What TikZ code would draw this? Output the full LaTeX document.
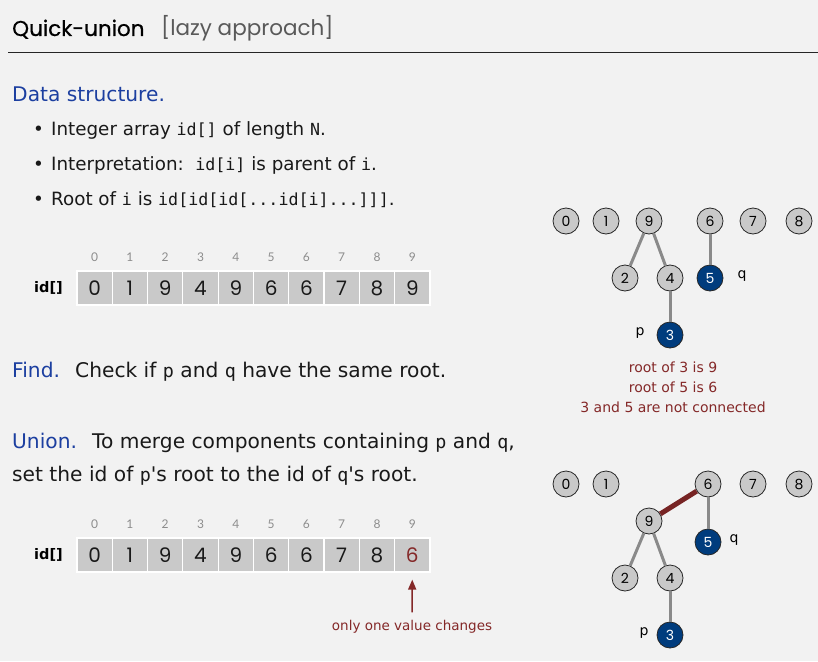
\documentclass[tikz,border=0pt]{standalone}
\usepackage{fontspec}
\setmainfont{DejaVu Sans}
\newfontfamily\titlefont[FakeBold=0.6]{Poppins}
\newfontfamily\subfont{Poppins}
\newfontfamily\digitfont{Poppins}
\newfontfamily\latofont{Lato}
\setmonofont[Scale=0.91]{DejaVu Sans Mono}
\usetikzlibrary{arrows.meta}
\definecolor{bgcol}{HTML}{F2F2F2}
\definecolor{headblue}{HTML}{1C3FA0}
\definecolor{darkred}{HTML}{842828}
\definecolor{nodeblue}{HTML}{003C7D}
\definecolor{cellgray}{HTML}{C9C9C9}
\definecolor{edgegray}{HTML}{8A8A8A}
\newcommand{\cd}[1]{{\ttfamily #1}}
\newcommand{\bulletsize}{\fontsize{18.3}{22}\selectfont}
\newcommand{\mainsize}{\fontsize{20.2}{24}\selectfont}
\begin{document}
\begin{tikzpicture}[x=1pt,y=-1pt,
  body/.style={anchor=base west,inner sep=0pt,font=\mainsize,text=black!90},
  bbody/.style={anchor=base west,inner sep=0pt,font=\bulletsize,text=black!90},
  head/.style={body,text=headblue},
  cell/.style={draw=white,line width=1.2pt,fill=cellgray,minimum width=35.3pt,minimum height=34pt,inner sep=0pt,font=\digitfont\fontsize{20}{24}\selectfont,text=black!90},
  idx/.style={inner sep=0pt,font=\latofont\fontsize{12}{14}\selectfont,text=black!45},
  lbl/.style={inner sep=0pt,font=\bfseries\fontsize{14.5}{18}\selectfont},
  tnode/.style={circle,draw=black!85,line width=0.8pt,fill=cellgray,minimum size=26pt,inner sep=0pt,font=\digitfont\fontsize{14}{16}\selectfont},
  bnode/.style={tnode,fill=nodeblue,text=white},
  tedge/.style={draw=edgegray,line width=3pt},
  redge/.style={draw=darkred!90!black,line width=5pt},
  note/.style={inner sep=0pt,font=\fontsize{14}{16}\selectfont,text=darkred},
  pq/.style={inner sep=0pt,font=\fontsize{14}{18}\selectfont}
]
\useasboundingbox[fill=bgcol] (0,0) rectangle (818,661);

% title
\node[anchor=base west,inner sep=0pt,font=\titlefont\fontsize{21.5}{28}\selectfont] (title) at (12,36) {Quick-union};
\node[anchor=base west,inner sep=0pt,font=\subfont\fontsize{21.5}{28}\selectfont,text=black!65] (sub) at (161,36) {[lazy approach]};
\coordinate (rulel) at (8,53);
\coordinate (ruler) at (826,53);
\draw[line width=1pt,black!85] (rulel) -- (ruler);

% data structure
\node[head] (ds) at (12,101) {Data structure.};
\node[bbody] (bu1) at (33,135) {\textbullet};
\node[bbody] (l1) at (51,135) {Integer array \cd{id[]} of length \cd{N}.};
\node[bbody] (bu2) at (33,170) {\textbullet};
\node[bbody] (l2) at (51,170) {Interpretation:\ \ \cd{id[i]} is parent of \cd{i}.};
\node[bbody] (bu3) at (33,205) {\textbullet};
\node[bbody] (l3) at (51,205) {Root of \cd{i} is \cd{id[id[id[...id[i]...]]]}.};

% first array
\node[lbl,anchor=east] (lab1) at (63,288) {id[]};
\foreach \i/\v in {0/0,1/1,2/9,3/4,4/9,5/6,6/6,7/7,8/8,9/9}{
  \node[cell] (a\i) at ({94.6+35.3*\i},288) {\v};
  \node[idx] (ai\i) at ({94.6+35.3*\i},257) {\i};
}

% find
\node[head] (find) at (12,377) {Find.};
\node[body] (findt) at (75,377) {Check if \cd{p} and \cd{q} have the same root.};

% union
\node[head] (union) at (12,448) {Union.};
\node[body] (uniont) at (92,448) {To merge components containing \cd{p} and \cd{q},};
\node[body] (union2) at (12,481) {set the id of \cd{p}\textquotesingle s root to the id of \cd{q}\textquotesingle s root.};

% second array
\node[lbl,anchor=east] (lab2) at (63,555) {id[]};
\foreach \i/\v in {0/0,1/1,2/9,3/4,4/9,5/6,6/6,7/7,8/8}{
  \node[cell] (b\i) at ({94.6+35.3*\i},555) {\v};
  \node[idx] (bi\i) at ({94.6+35.3*\i},524) {\i};
}
\node[cell,text=darkred] (b9) at ({94.6+35.3*9},555) {6};
\node[idx] (bi9) at ({94.6+35.3*9},524) {9};
\node[note,font=\fontsize{13.5}{16}\selectfont] (msg) at (412,627) {only one value changes};
\draw[darkred,line width=1.6pt,-{Triangle[width=8pt,length=10pt]},shorten >=7pt,shorten <=8pt] (msg.north) -- (b9.south);

% tree 1
\node[tnode] (s0) at (566,221) {0};
\node[tnode] (s1) at (606,221) {1};
\node[tnode] (s9) at (649,221) {9};
\node[tnode] (s6) at (710,221) {6};
\node[tnode] (s7) at (753,221) {7};
\node[tnode] (s8) at (799,221) {8};
\node[tnode] (s2) at (625,278) {2};
\node[tnode] (s4) at (670,278) {4};
\node[bnode] (s5) at (710,278) {5};
\node[bnode] (s3) at (670,335) {3};
\node[pq] (sq) at (742,276) {q};
\node[pq] (sp) at (640,333) {p};
\draw[tedge] (s9) -- (s2);
\draw[tedge] (s9) -- (s4);
\draw[tedge] (s4) -- (s3);
\draw[tedge] (s6) -- (s5);
\node[note] (n1) at (673,367) {root of 3 is 9};
\node[note] (n2) at (673,387) {root of 5 is 6};
\node[note] (n3) at (673,407) {3 and 5 are not connected};

% tree 2
\node[tnode] (t0) at (566,484) {0};
\node[tnode] (t1) at (606,484) {1};
\node[tnode] (t6) at (708,484) {6};
\node[tnode] (t7) at (753,484) {7};
\node[tnode] (t8) at (799,484) {8};
\node[tnode] (t9) at (649,521) {9};
\node[bnode] (t5) at (708,542) {5};
\node[tnode] (t2) at (625,578) {2};
\node[tnode] (t4) at (670,578) {4};
\node[bnode] (t3) at (670,635) {3};
\node[pq] (tq) at (734,540) {q};
\node[pq] (tp) at (644,633) {p};
\draw[redge] (t9) -- (t6);
\draw[tedge] (t6) -- (t5);
\draw[tedge] (t9) -- (t2);
\draw[tedge] (t9) -- (t4);
\draw[tedge] (t4) -- (t3);
\end{tikzpicture}
\end{document}
